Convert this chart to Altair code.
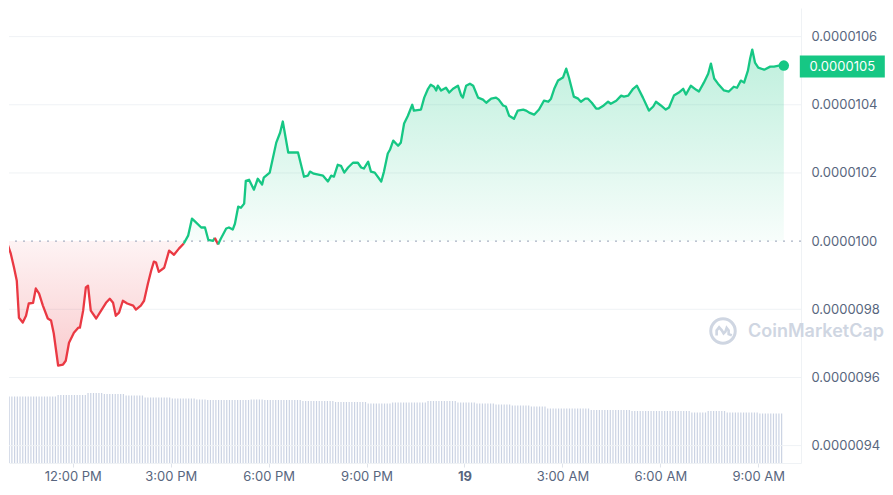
import altair as alt
import pandas as pd

# ---------------- data ----------------
# time as minutes after 9:48 AM on the 18th, price x 1e7
minutes = [
    0, 6, 13, 18, 24, 29, 33, 40, 46, 51,
    59, 64, 70, 77, 86, 92, 97, 105, 114, 119,
    125, 134, 142, 145, 151, 156, 160, 165, 175, 184,
    193, 200, 206, 211, 217, 224, 232, 243, 248, 257,
    263, 270, 276, 281, 285, 290, 300, 309, 318, 327,
    336, 344, 351, 357, 368, 375, 381, 390, 393, 399,
    404, 414, 419, 426, 430, 436, 441, 447, 450, 456,
    465, 472, 480, 483, 494, 506, 513, 518, 528, 539,
    546, 557, 564, 568, 575, 592, 601, 607, 612, 619,
    625, 631, 638, 647, 656, 662, 667, 675, 680, 687,
    699, 704, 711, 715, 721, 730, 735, 741, 748, 756,
    759, 772, 778, 785, 790, 796, 800, 803, 809, 818,
    824, 831, 840, 846, 849, 855, 862, 868, 877, 886,
    892, 901, 910, 915, 923, 928, 934, 943, 950, 960,
    965, 971, 980, 989, 998, 1006, 1011, 1017, 1024, 1033,
    1039, 1044, 1053, 1061, 1066, 1074, 1079, 1086, 1094, 1099,
    1108, 1116, 1121, 1131, 1140, 1145, 1153, 1162, 1169, 1180,
    1191, 1199, 1204, 1213, 1222, 1228, 1237, 1246, 1254, 1259,
    1268, 1278, 1283, 1292, 1300, 1305, 1311, 1318, 1329, 1338,
    1347, 1353, 1360, 1366, 1373, 1377, 1381, 1386, 1392, 1403,
    1414, 1421, 1430, 1439,
]
price_e7 = [
    99.87, 99.84, 99.87, 99.63, 99.22, 98.84, 97.75, 97.61, 97.81, 98.17,
    98.19, 98.61, 98.46, 98.11, 97.73, 97.67, 97.29, 96.35, 96.38, 96.49,
    97.02, 97.31, 97.46, 97.46, 97.96, 98.64, 98.69, 97.96, 97.73, 97.96,
    98.19, 98.31, 98.19, 97.81, 97.90, 98.25, 98.17, 98.11, 97.99, 98.11,
    98.25, 98.75, 99.13, 99.40, 99.37, 99.10, 99.22, 99.72, 99.60, 99.78,
    99.93, 100.16, 100.66, 100.57, 100.40, 100.40, 100.04, 100.01, 100.10, 99.90,
    100.07, 100.37, 100.40, 100.34, 100.51, 101.01, 100.98, 101.10, 101.77, 101.80,
    101.51, 101.83, 101.66, 101.86, 102.01, 102.89, 103.18, 103.51, 102.60, 102.60,
    102.60, 101.89, 101.92, 102.04, 101.98, 101.92, 101.75, 101.92, 101.89, 102.24,
    102.21, 102.01, 102.16, 102.30, 102.30, 102.16, 102.13, 102.33, 102.04, 102.01,
    101.75, 102.04, 102.57, 102.68, 102.95, 102.80, 102.89, 103.45, 103.68, 104.00,
    103.83, 103.86, 104.21, 104.47, 104.59, 104.53, 104.42, 104.56, 104.42, 104.50,
    104.36, 104.47, 104.56, 104.27, 104.21, 104.56, 104.62, 104.56, 104.21, 104.15,
    104.06, 104.18, 104.21, 104.15, 103.98, 103.95, 103.68, 103.59, 103.83, 103.86,
    103.83, 103.77, 103.71, 103.86, 104.12, 104.09, 104.18, 104.47, 104.71, 104.80,
    105.06, 104.80, 104.24, 104.18, 104.09, 104.18, 104.18, 104.06, 103.89, 103.89,
    103.98, 104.09, 104.03, 104.12, 104.27, 104.24, 104.27, 104.47, 104.56, 104.21,
    103.83, 103.95, 104.09, 103.98, 103.86, 103.92, 104.27, 104.36, 104.47, 104.30,
    104.56, 104.44, 104.39, 104.65, 104.91, 105.21, 104.77, 104.62, 104.42, 104.39,
    104.53, 104.50, 104.71, 104.65, 105.00, 105.35, 105.62, 105.24, 105.09, 105.03,
    105.12, 105.12, 105.15, 105.15,
]

# 5-minute volume bars (relative units), as runs of equal height
volume_levels = [1.33, 1.36, 1.40, 1.38, 1.35, 1.31, 1.29, 1.27, 1.26, 1.27,
                 1.26, 1.24, 1.22, 1.19, 1.21, 1.24, 1.21, 1.19, 1.17, 1.15,
                 1.13, 1.09, 1.06, 1.04, 1.01, 1.04, 1.01, 0.99]
volume_runs = [21, 11, 6, 8, 7, 10, 9, 4, 16, 5,
               14, 12, 12, 9, 13, 11, 7, 7, 6, 7,
               6, 16, 15, 22, 6, 7, 12, 9]

OPEN = 100.0                                   # opening price (x 1e7)
y_ticks = [94, 96, 98, 100, 102, 104, 106]
grid_values = [94, 96, 98, 102, 104, 106]
x_tick_minutes = [132, 312, 492, 672, 852, 1032, 1212, 1392]
x_tick_labels = ["12:00 PM", "3:00 PM", "6:00 PM", "9:00 PM", "19",
                 "3:00 AM", "6:00 AM", "9:00 AM"]
DAY_TICK = 852                                 # the "19" tick, drawn bold

# ---------------- styling ----------------
GREEN = "#16c784"
RED = "#ea3943"
TEXT = "#58667e"
GRID = "#eff2f5"
WM = "#cfd6e2"
FONT = "Inter"
W, H = 792, 455

price_df = pd.DataFrame({"minute": minutes, "price": price_e7})
last_df = price_df.tail(1).reset_index(drop=True)

# split the line into runs above / below the open price (runs share their joint point)
rows, seg = [], 0
for i, (m, p) in enumerate(zip(minutes, price_e7)):
    side = "up" if p >= OPEN else "down"
    if i > 0:
        prev_side = "up" if price_e7[i - 1] >= OPEN else "down"
        if side != prev_side:
            seg += 1
            rows.append({"minute": minutes[i - 1], "price": price_e7[i - 1], "seg": seg, "side": side})
    rows.append({"minute": m, "price": p, "seg": seg, "side": side})
line_df = pd.DataFrame(rows)

vol_values = [lvl for lvl, n in zip(volume_levels, volume_runs) for _ in range(n)]
vol_df = pd.DataFrame({"minute": [5 * i for i in range(len(vol_values))], "volume": vol_values})
grid_df = pd.DataFrame({"v": grid_values})

x_scale = alt.Scale(domain=[14.7, 1470.6], nice=False, zero=False, padding=0)
y_scale = alt.Scale(domain=[93.49, 106.84], nice=False, zero=False)

label_lookup = "{" + ", ".join(f"'{m}': '{t}'" for m, t in zip(x_tick_minutes, x_tick_labels)) + "}"
x_axis = alt.Axis(
    title=None, grid=False, labelAngle=0, values=x_tick_minutes,
    labelExpr=f"{label_lookup}[toString(datum.value)]",
    labelFontWeight={"condition": {"test": f"datum.value == {DAY_TICK}", "value": "bold"},
                     "value": "normal"},
    labelFontSize=13, labelColor=TEXT, labelFont=FONT, labelPadding=3,
    tickColor="#dfe3ea", tickSize=4, domainColor=GRID, labelFlush=False,
)
y_axis = alt.Axis(
    orient="right", values=y_ticks, labelExpr="format(datum.value * 1e-7, '.7f')",
    ticks=False, labelPadding=10, grid=False, domain=True, domainColor=GRID,
    title=None, labelFontSize=13, labelColor=TEXT, labelFont=FONT,
)

X = alt.X("minute:Q", scale=x_scale, axis=x_axis)


def Y(field):
    return alt.Y(field, scale=y_scale, axis=y_axis)


green_grad = alt.Gradient(
    gradient="linear", x1=0, y1=0, x2=0, y2=1,
    stops=[alt.GradientStop(color="rgba(22,199,132,0.28)", offset=0),
           alt.GradientStop(color="rgba(22,199,132,0.03)", offset=1)],
)
red_grad = alt.Gradient(
    gradient="linear", x1=0, y1=0, x2=0, y2=1,
    stops=[alt.GradientStop(color="rgba(234,57,67,0.06)", offset=0),
           alt.GradientStop(color="rgba(234,57,67,0.26)", offset=1)],
)

grid = alt.Chart(grid_df).mark_rule(color=GRID, strokeWidth=1).encode(y=Y("v:Q"))

green_area = alt.Chart(price_df).transform_calculate(
    top=f"max(datum.price, {OPEN})"
).mark_area(clip=True, color=green_grad).encode(x=X, y=Y("top:Q"), y2=alt.datum(OPEN))

red_area = alt.Chart(price_df).transform_calculate(
    bottom=f"min(datum.price, {OPEN})"
).mark_area(clip=True, color=red_grad).encode(x=X, y=Y("bottom:Q"), y2=alt.datum(OPEN))

open_rule = alt.Chart(last_df).mark_rule(
    color="#a9b2c3", strokeDash=[2, 6], strokeWidth=1.2
).encode(y=alt.datum(OPEN))

line = alt.Chart(line_df).mark_line(clip=True, strokeWidth=2.3, strokeJoin="round").encode(
    x=X, y=Y("price:Q"),
    color=alt.Color("side:N", scale=alt.Scale(domain=["up", "down"], range=[GREEN, RED]), legend=None),
    detail="seg:N",
    order=alt.Order("minute:Q"),
)

dot = alt.Chart(last_df).mark_circle(size=110, color=GREEN, opacity=1).encode(x=X, y=Y("price:Q"))

badge = alt.Chart(last_df).mark_rect(
    color=GREEN, xOffset=16, x2Offset=101, yOffset=-10, y2Offset=12
).encode(x=X, x2=alt.X2("minute"), y=Y("price:Q"), y2=alt.Y2("price"))

badge_text = alt.Chart(last_df).transform_calculate(
    label="format(datum.price * 1e-7, '.7f')"
).mark_text(
    dx=58.5, dy=1, align="center", baseline="middle", color="white", fontSize=13, font=FONT,
).encode(x=X, y=Y("price:Q"), text="label:N")

wm_df = pd.DataFrame({"t": ["CoinMarketCap"]})
wm_ring = alt.Chart(wm_df).mark_point(
    shape="circle", size=600, filled=False, strokeWidth=3, color=WM, opacity=1,
).encode(x=alt.value(714), y=alt.value(323))
wm_wave = alt.Chart(wm_df).mark_point(
    shape="M -0.52 0.36 L -0.52 -0.05 L -0.32 -0.3 L -0.1 -0.05 L 0.05 0.2 L 0.2 0.05 L 0.3 -0.25 L 0.46 -0.05 L 0.46 0.25 L 0.72 0.36",
    size=600, filled=False, strokeWidth=2.6, color=WM, opacity=1,
).encode(x=alt.value(714), y=alt.value(323))
wm_text = alt.Chart(wm_df).mark_text(
    align="left", baseline="middle", fontSize=18, fontWeight=600, color=WM, font=FONT,
).encode(x=alt.value(739), y=alt.value(324), text="t:N")

vol = alt.Chart(vol_df).mark_bar(width=1.2, color="#cbd3e3", clip=True).encode(
    x=X,
    y=alt.Y("volume:Q", scale=alt.Scale(domain=[0, 9.1], nice=False, zero=True), axis=None),
)

price_layers = alt.layer(grid, wm_ring, wm_wave, wm_text, red_area, green_area, open_rule,
                         line, dot, badge, badge_text)

chart = alt.layer(vol, price_layers).resolve_scale(y="independent").properties(
    width=W, height=H, padding=0
).configure(background="white", font=FONT).configure_view(strokeWidth=0)

chart.save("out.html", embed_options={"renderer": "svg", "actions": False})
